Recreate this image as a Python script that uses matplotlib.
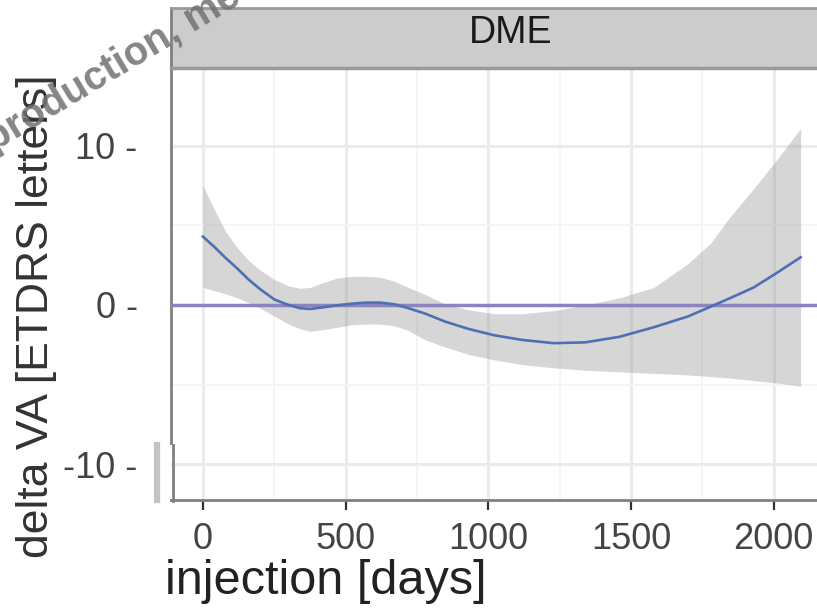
import matplotlib
matplotlib.use('Agg')
import matplotlib.pyplot as plt
from matplotlib.lines import Line2D
from matplotlib.ticker import MultipleLocator

# loess fit of visual acuity change vs days since injection
days = [0, 40, 80, 120, 160, 200, 250, 300, 340, 375, 420, 470, 520, 570, 620, 670,
        720, 780, 850, 930, 1020, 1120, 1230, 1340, 1460, 1580, 1700, 1780, 1850,
        1930, 2010, 2095]
fit = [4.3, 3.65, 2.95, 2.3, 1.6, 1.0, 0.35, 0.0, -0.2, -0.25, -0.15, -0.02, 0.08,
       0.15, 0.15, 0.05, -0.2, -0.55, -1.05, -1.5, -1.9, -2.2, -2.4, -2.35, -2.0,
       -1.4, -0.72, -0.1, 0.45, 1.1, 2.0, 3.0]
upper = [7.5, 6.0, 4.6, 3.6, 2.8, 2.2, 1.6, 1.2, 1.05, 1.1, 1.4, 1.7, 1.8, 1.8, 1.75,
         1.5, 1.1, 0.65, 0.05, -0.3, -0.55, -0.55, -0.35, 0.0, 0.45, 1.1, 2.6, 3.9,
         5.6, 7.3, 9.1, 11.1]
lower = [1.1, 0.9, 0.7, 0.45, 0.15, -0.2, -0.7, -1.2, -1.5, -1.65, -1.55, -1.4,
         -1.25, -1.2, -1.2, -1.3, -1.6, -2.2, -2.65, -3.1, -3.45, -3.75, -3.95, -4.1,
         -4.2, -4.3, -4.4, -4.5, -4.6, -4.75, -4.9, -5.1]

panel_title = 'DME'
x_ticks = [0, 500, 1000, 1500, 2000]
y_ticks = [-10, 0, 10]
y_tick_labels = ['-10 -', '0 -', '10 -']

plt.rcParams['font.family'] = ['Liberation Sans', 'DejaVu Sans']

W, H = 817, 610
fig = plt.figure(figsize=(W / 100, H / 100), dpi=100)

# panel runs past the right edge of the image (cropped like the reference)
left, right, top, bottom = 171, 850, 68, 500
ax = fig.add_axes([left / W, 1 - bottom / H, (right - left) / W, (bottom - top) / H])
ax.set_xlim(-112, 2268)
ax.set_ylim(-12.26, 14.9)

ax.xaxis.set_minor_locator(MultipleLocator(250))
ax.yaxis.set_minor_locator(MultipleLocator(5))
ax.grid(which='major', color='#ebebeb', linewidth=2.2, zorder=0)
ax.grid(which='minor', color='#f5f5f5', linewidth=1.4, zorder=0)
ax.set_axisbelow(True)

ax.fill_between(days, lower, upper, color='#999999', alpha=0.4, linewidth=0, zorder=2)
ax.axhline(0, color='#8b84c0', linewidth=2.5, zorder=3)
ax.plot(days, fit, color='#4f6fb5', linewidth=1.9, zorder=4)

for s in ['top', 'right']:
    ax.spines[s].set_visible(False)
ax.spines['left'].set_color('#808080')
ax.spines['left'].set_linewidth(2.0)
ax.spines['left'].set_bounds(-8.7, 14.9)
ax.spines['bottom'].set_color('#808080')
ax.spines['bottom'].set_linewidth(2.0)

ax.set_xticks(x_ticks)
ax.set_xticklabels([str(v) for v in x_ticks])
ax.tick_params(axis='x', which='major', length=7, width=1.6, color='#333333',
               labelsize=26, labelcolor='#444444', pad=9)
ax.tick_params(which='minor', length=0)
ax.set_yticks(y_ticks)
ax.set_yticklabels(y_tick_labels)
ax.tick_params(axis='y', which='major', length=0, labelsize=26, labelcolor='#444444', pad=24)

# broken bit of the y axis near the bottom
fig.add_artist(Line2D([173 / W, 173 / W], [1 - 445 / H, 1 - 501 / H], color='#808080', linewidth=2.0))
fig.add_artist(Line2D([157 / W, 157 / W], [1 - 445 / H, 1 - 500 / H], color='#c4c4c4', linewidth=4.5))

fig.text(165 / W, 1 - 582 / H, 'injection [days]', fontsize=35, color='#222222',
         ha='left', va='center')
fig.text(37 / W, 1 - 316 / H, 'delta VA [ETDRS letters]', fontsize=32, color='#333333',
         rotation=90, ha='center', va='center')

# facet strip
strip = fig.add_axes([left / W, 1 - top / H, (right - left) / W, 60 / H])
strip.set_facecolor('#cccccc')
strip.set_xticks([])
strip.set_yticks([])
for s in strip.spines.values():
    s.set_visible(False)
strip.spines['top'].set_visible(True)
strip.spines['top'].set_color('#999999')
strip.spines['top'].set_linewidth(2.0)
strip.spines['left'].set_visible(True)
strip.spines['left'].set_color('#808080')
strip.spines['left'].set_linewidth(2.0)
strip.spines['bottom'].set_visible(True)
strip.spines['bottom'].set_color('#9a9a9a')
strip.spines['bottom'].set_linewidth(2.5)
strip.text(0.5, 0.58, panel_title, transform=strip.transAxes, ha='center', va='center',
           fontsize=27, color='#1a1a1a')

# watermark over the top left corner
fig.text(-6 / W, 1 - 152 / H, 'production, me', fontsize=29, fontweight='bold',
         color='#707070', alpha=0.85, rotation=31, rotation_mode='anchor',
         ha='left', va='baseline', zorder=10)

fig.savefig('out.png', dpi=100)
